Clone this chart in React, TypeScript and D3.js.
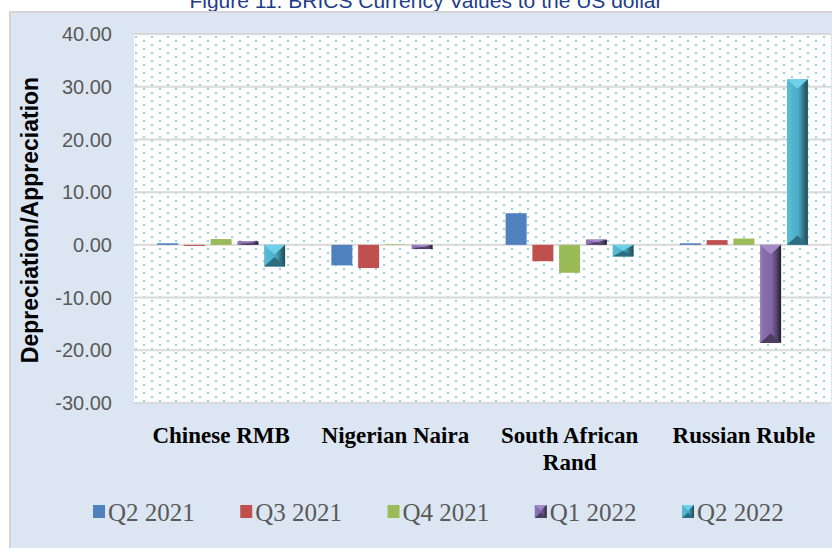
import React from "react";
import * as d3 from "d3";

const categories = ["Chinese RMB", "Nigerian Naira", "South African Rand", "Russian Ruble"];
const categoryLines = [["Chinese RMB"], ["Nigerian Naira"], ["South African", "Rand"], ["Russian Ruble"]];
const seriesNames = ["Q2 2021", "Q3 2021", "Q4 2021", "Q1 2022", "Q2 2022"];
const q2_2021 = [0.3, -3.9, 6.0, 0.3];
const q3_2021 = [-0.2, -4.4, -3.1, 0.9];
const q4_2021 = [1.1, 0.1, -5.3, 1.2];
const q1_2022 = [0.7, -0.8, 1.0, -18.6];
const q2_2022 = [-4.1, 0.0, -2.2, 31.4];
const seriesValues = [q2_2021, q3_2021, q4_2021, q1_2022, q2_2022];
const yTicks = [-30, -20, -10, 0, 10, 20, 30, 40];

const W = 832;
const H = 548;

type Style = { base: string; bevel: boolean; light?: string; dark?: string; top?: string; bottom?: string; id?: string };
const styles: Style[] = [
  { base: "#4f81bd", bevel: false },
  { base: "#c0504d", bevel: false },
  { base: "#9bbb59", bevel: false },
  { base: "#8064a2", bevel: true, light: "#8a6fb0", dark: "#241b30", top: "#a58cc8", bottom: "#4d3d63", id: "gPurple" },
  { base: "#4bacc6", bevel: true, light: "#55b9d4", dark: "#1d4a57", top: "#6fd0ea", bottom: "#2c6e80", id: "gTeal" },
];

function BevelBar({ x, y, w, h, s }: { x: number; y: number; w: number; h: number; s: Style }) {
  if (!s.bevel) return <rect x={x} y={y} width={w} height={h} fill={s.base} />;
  const b = Math.min(h / 2, w * 0.45);
  const cx = x + w / 2;
  return (
    <g>
      <rect x={x} y={y} width={w} height={h} fill={`url(#${s.id})`} />
      <polygon points={`${x},${y} ${x + w},${y} ${cx},${y + b}`} fill={s.top} />
      <polygon points={`${x},${y + h} ${x + w},${y + h} ${cx},${y + h - b}`} fill={s.bottom} />
    </g>
  );
}

export default function App() {
  const plotL = 134, plotR = 831, plotT = 34, plotB = 403;
  const y = d3.scaleLinear().domain([-30, 40]).range([plotB, plotT]);
  const x0 = d3.scaleBand<string>().domain(categories).range([plotL, plotR]).paddingInner(0).paddingOuter(0);
  const x1 = d3.scaleBand<string>().domain(seriesNames).range([0, x0.bandwidth()]).paddingInner(0.215).paddingOuter(0.864);
  const legendX = d3.scaleLinear().domain([0, 4]).range([93, 682]);

  return (
    <svg width={W} height={H} style={{ position: "absolute", left: 0, top: 0, background: "#ffffff" }}>
      <defs>
        <pattern id="dots" patternUnits="userSpaceOnUse" x={plotL + 1} y={plotT + 2} width={16} height={8}>
          <rect x={0} y={0} width={2} height={2} fill="#93d4e1" />
          <rect x={8} y={4} width={2} height={2} fill="#93d4e1" />
        </pattern>
        {styles.filter((s) => s.bevel).map((s) => (
          <linearGradient key={s.id} id={s.id} x1="0" x2="1" y1="0" y2="0">
            <stop offset="0%" stopColor={s.base} stopOpacity={0.85} />
            <stop offset="15%" stopColor={s.light} />
            <stop offset="55%" stopColor={s.base} />
            <stop offset="80%" stopColor={d3.color(s.base)!.darker(1.2).toString()} />
            <stop offset="100%" stopColor={s.dark} />
          </linearGradient>
        ))}
      </defs>

      {/* Title (clipped by page top, as in the reference) */}
      <text x={426} y={8} textAnchor="middle" fontFamily="Liberation Sans, Arial, sans-serif" fontSize={21} fill="#1f3d8a">
        Figure 11: BRICS Currency Values to the US dollar
      </text>

      {/* Chart area */}
      <rect x={10} y={12} width={W} height={H} fill="#dce6f2" stroke="#d4d4d4" strokeWidth={2} />

      {/* Plot area */}
      <rect x={plotL} y={plotT} width={plotR - plotL} height={plotB - plotT} fill="#ffffff" />
      <rect x={plotL} y={plotT} width={plotR - plotL} height={plotB - plotT} fill="url(#dots)" />

      {/* Gridlines */}
      {yTicks.map((t) => (
        <line key={t} x1={plotL} x2={plotR} y1={y(t)} y2={y(t)} stroke="#d9d9d9" strokeWidth={2} />
      ))}

      {/* Bars */}
      {categories.map((c, ci) => (
        <g key={c}>
          {seriesNames.map((sn, si) => {
            const v = seriesValues[si][ci];
            const bx = (x0(c) ?? 0) + (x1(sn) ?? 0);
            const top = y(Math.max(0, v));
            const h = Math.abs(y(v) - y(0));
            if (h < 0.3) return null;
            return <BevelBar key={sn} x={bx} y={top} w={x1.bandwidth()} h={h} s={styles[si]} />;
          })}
        </g>
      ))}

      {/* Y tick labels */}
      {yTicks.map((t) => (
        <text key={t} x={112} y={y(t)} dy="0.36em" textAnchor="end" fontFamily="Liberation Sans, Arial, sans-serif" fontSize={20} fill="#595959">
          {t.toFixed(2)}
        </text>
      ))}

      {/* Y axis title */}
      <text transform={`translate(38,220) rotate(-90)`} textAnchor="middle" fontFamily="Liberation Sans, Arial, sans-serif" fontWeight="bold" fontSize={23} fill="#000000">
        Depreciation/Appreciation
      </text>

      {/* Category labels */}
      {categories.map((c, ci) => (
        <text key={c} x={(x0(c) ?? 0) + x0.bandwidth() / 2} y={443} textAnchor="middle" fontFamily="Liberation Serif, Times New Roman, serif" fontWeight="bold" fontSize={23} fill="#000000">
          {categoryLines[ci].map((line, li) => (
            <tspan key={li} x={(x0(c) ?? 0) + x0.bandwidth() / 2} dy={li === 0 ? 0 : 27}>{line}</tspan>
          ))}
        </text>
      ))}

      {/* Legend */}
      {seriesNames.map((sn, si) => {
        const lx = legendX(si);
        return (
          <g key={sn}>
            <BevelBar x={lx} y={505} w={12} h={13} s={styles[si]} />
            <text x={lx + 15} y={521} fontFamily="Liberation Serif, Times New Roman, serif" fontSize={25} fill="#595959">
              {sn}
            </text>
          </g>
        );
      })}
    </svg>
  );
}
